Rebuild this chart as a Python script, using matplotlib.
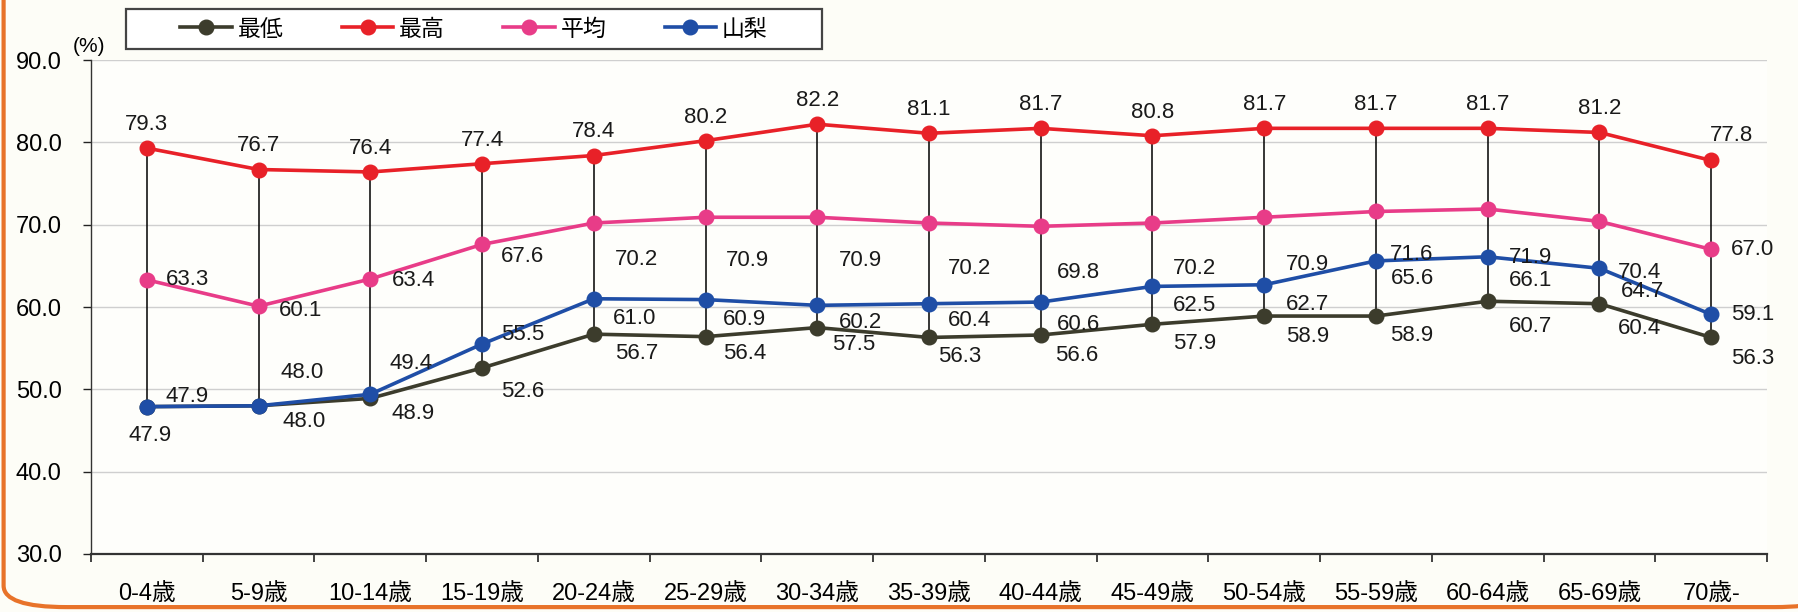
import matplotlib
matplotlib.use("Agg")
import matplotlib.pyplot as plt
from matplotlib.patches import FancyBboxPatch, Rectangle
from matplotlib.lines import Line2D

plt.rcParams["font.family"] = ["Liberation Sans", "Noto Sans CJK JP"]

categories = ["0-4歳", "5-9歳", "10-14歳", "15-19歳", "20-24歳", "25-29歳", "30-34歳",
              "35-39歳", "40-44歳", "45-49歳", "50-54歳", "55-59歳", "60-64歳", "65-69歳", "70歳-"]

lowest = [47.9, 48.0, 48.9, 52.6, 56.7, 56.4, 57.5, 56.3, 56.6, 57.9, 58.9, 58.9, 60.7, 60.4, 56.3]
highest = [79.3, 76.7, 76.4, 77.4, 78.4, 80.2, 82.2, 81.1, 81.7, 80.8, 81.7, 81.7, 81.7, 81.2, 77.8]
average = [63.3, 60.1, 63.4, 67.6, 70.2, 70.9, 70.9, 70.2, 69.8, 70.2, 70.9, 71.6, 71.9, 70.4, 67.0]
yamanashi = [47.9, 48.0, 49.4, 55.5, 61.0, 60.9, 60.2, 60.4, 60.6, 62.5, 62.7, 65.6, 66.1, 64.7, 59.1]

series_names = ["最低", "最高", "平均", "山梨"]
colors = {"最低": "#3c3c2c", "最高": "#e82128", "平均": "#e83c88", "山梨": "#1f4ea6"}

# label offsets in points (dx, dy)
off_high = [(0, 17)] * 14 + [(15, 18)]
off_avg = [(29, 0), (30, -3), (31, -1), (29, -9), (31, -26), (30, -31), (31, -31), (29, -33),
           (27, -33), (30, -33), (31, -34), (26, -31), (31, -35), (29, -37), (30, 0)]
off_yam = [(29, 7), (31, 24), (29, 22), (29, 7), (29, -14), (28, -14), (31, -12), (29, -12),
           (27, -16), (30, -14), (31, -14), (26, -13), (31, -17), (31, -17), (30, 0)]
off_low = [(2, -21), (33, -11), (31, -11), (29, -17), (31, -14), (28, -12), (26, -12), (22, -14),
           (26, -15), (30, -14), (31, -15), (26, -14), (31, -18), (29, -18), (30, -15)]

bg = "#fdfdf7"
fig = plt.figure(figsize=(17.98, 6.12), dpi=100, facecolor=bg)
ax = fig.add_axes([91 / 1798, 1 - 554 / 612, 1676 / 1798, 494 / 612], facecolor="#fefefb")

x = list(range(len(categories)))

# high-low lines
ax.vlines(x, lowest, highest, color="black", lw=1.1, zorder=2)

data = {"最低": lowest, "最高": highest, "平均": average, "山梨": yamanashi}
offsets = {"最低": off_low, "最高": off_high, "平均": off_avg, "山梨": off_yam}
for z, name in enumerate(series_names):
    vals = data[name]
    ax.plot(x, vals, color=colors[name], lw=2.6, marker="o", markersize=10.5, zorder=3 + z)
    for xi, v, (dx, dy) in zip(x, vals, offsets[name]):
        ax.annotate(f"{v:.1f}", xy=(xi, v), xytext=(dx, dy), textcoords="offset points",
                    ha="center", va="center", fontsize=16, color="#1a1a1a", zorder=10)

ax.set_xlim(-0.5, len(categories) - 0.5)
ax.set_ylim(30, 90)
yticks = [30, 40, 50, 60, 70, 80, 90]
ax.set_yticks(yticks)
ax.set_yticklabels([f"{v:.1f}" for v in yticks], fontsize=17)
ax.set_xticks(x)
ax.set_xticklabels(categories, fontsize=17)
ax.set_xticks([i - 0.5 for i in range(len(categories) + 1)], minor=True)
ax.tick_params(axis="x", which="major", length=0, pad=21)
ax.tick_params(axis="x", which="minor", length=6, width=1.2, color="#222222")
ax.tick_params(axis="y", length=6, width=1, color="#222222", pad=15)
ax.grid(axis="y", color="#cfcfcf", lw=1.0)
ax.set_axisbelow(True)
for s in ["top", "right"]:
    ax.spines[s].set_visible(False)
ax.spines["left"].set_color("#333333")
ax.spines["left"].set_linewidth(1.0)
ax.spines["bottom"].set_color("#333333")
ax.spines["bottom"].set_linewidth(1.6)

fig.text(89 / 1798, 1 - 46 / 612, "(%)", fontsize=15, ha="center", va="center")

# legend with its own frame
fig.patches.append(Rectangle((126 / 1798, 1 - 49 / 612), 696 / 1798, 40 / 612,
                             transform=fig.transFigure, facecolor="white",
                             edgecolor="#444444", lw=1.6, zorder=5))
handles = [Line2D([0], [0], color=colors[n], lw=2.6, marker="o", markersize=10.5) for n in series_names]
fig.legend(handles, series_names, loc="center", bbox_to_anchor=((126 + 348) / 1798, 1 - 29 / 612),
           ncol=4, frameon=False, handlelength=2.25, handletextpad=0.25,
           columnspacing=2.55, prop={"family": ["Noto Sans CJK JP"], "size": 16.5})

# orange frame around the figure (right and top edges fall outside the picture)
fig.patches.append(FancyBboxPatch((0.002, 0.008), 1.02, 1.2,
                                  boxstyle="round,pad=0,rounding_size=0.035",
                                  transform=fig.transFigure, facecolor="none",
                                  edgecolor="#e8732a", lw=3, zorder=1))

fig.savefig("out.png", dpi=100, facecolor=bg)
